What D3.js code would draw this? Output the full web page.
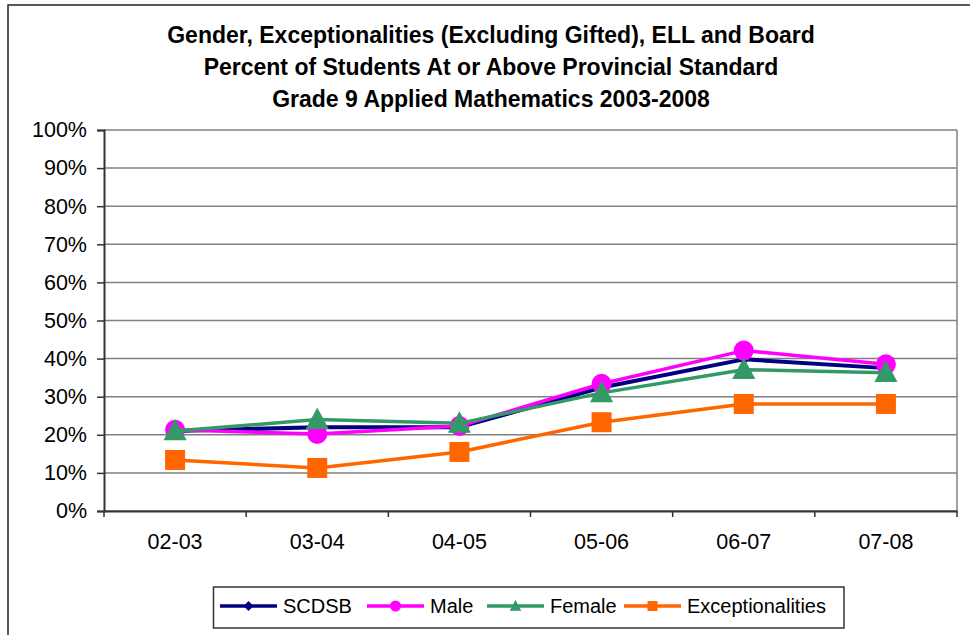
<!DOCTYPE html>
<html>
<head>
    <title>Grade 9 Applied Mathematics 2003-2008</title>
    <style>
        body { margin: 0; background: #fff; }
        svg text { font-family: "Liberation Sans", Arial, sans-serif; fill: #000; }
        .title { font-weight: bold; font-size: 23px; }
        .tick-label { font-size: 21.5px; }
        .legend-label { font-size: 20px; }
    </style>
</head>
<body>
    <div id="chart"></div>
    <script src="https://d3js.org/d3.v7.min.js"></script>
    <script>
        // Chart data (percent at or above provincial standard)
        const years = ["02-03", "03-04", "04-05", "05-06", "06-07", "07-08"];
        const scdsb = [21, 22, 22, 32.4, 39.8, 37.5];
        const male = [21.3, 20.2, 22.3, 33.4, 42.1, 38.5];
        const female = [21, 24, 23, 31, 37.1, 36.3];
        const exceptionalities = [13.4, 11.3, 15.5, 23.3, 28.1, 28.1];
        const yTicks = [0, 10, 20, 30, 40, 50, 60, 70, 80, 90, 100];
        const titleLines = [
            "Gender, Exceptionalities (Excluding Gifted), ELL and Board",
            "Percent of Students At or Above Provincial Standard",
            "Grade 9 Applied Mathematics 2003-2008"
        ];

        const series = [
            { name: "SCDSB", values: scdsb, color: "#000080", shape: "diamond" },
            { name: "Male", values: male, color: "#ff00ff", shape: "circle" },
            { name: "Female", values: female, color: "#339966", shape: "triangle" },
            { name: "Exceptionalities", values: exceptionalities, color: "#ff6600", shape: "square" }
        ];

        const W = 970, H = 635;
        const plot = { left: 104, right: 957, top: 130, bottom: 511 };

        const svg = d3.select("#chart").append("svg")
            .attr("width", W)
            .attr("height", H);

        // outer chart frame
        svg.append("rect")
            .attr("x", 8).attr("y", 5)
            .attr("width", 990).attr("height", 660)
            .attr("fill", "#fff")
            .attr("stroke", "#222")
            .attr("stroke-width", 1.5);

        // title
        svg.append("g").selectAll("text")
            .data(titleLines)
            .join("text")
            .attr("class", "title")
            .attr("x", 491)
            .attr("y", (d, i) => 43 + i * 32)
            .attr("text-anchor", "middle")
            .text(d => d);

        const x = d3.scaleBand()
            .domain(years)
            .range([plot.left, plot.right]);

        const y = d3.scaleLinear()
            .domain([0, 100])
            .range([plot.bottom, plot.top]);

        // gridlines
        svg.append("g").selectAll("line")
            .data(yTicks)
            .join("line")
            .attr("x1", plot.left).attr("x2", plot.right)
            .attr("y1", d => y(d)).attr("y2", d => y(d))
            .attr("stroke", "#808080")
            .attr("stroke-width", 1.5);

        // right border of plot area
        svg.append("line")
            .attr("x1", plot.right).attr("x2", plot.right)
            .attr("y1", plot.top).attr("y2", plot.bottom)
            .attr("stroke", "#808080")
            .attr("stroke-width", 1.5);

        // y axis
        const yAxis = svg.append("g")
            .attr("transform", `translate(${plot.left},0)`)
            .call(d3.axisLeft(y).tickValues(yTicks).tickFormat(d => d + "%").tickSize(7).tickPadding(10));
        yAxis.select(".domain").attr("stroke", "#333").attr("stroke-width", 2);
        yAxis.selectAll(".tick line").attr("stroke", "#333").attr("stroke-width", 1.5);
        yAxis.selectAll(".tick text")
            .attr("class", "tick-label")
            .attr("font-family", null)
            .attr("font-size", null)
            .attr("fill", "#000");

        // x axis: ticks on category boundaries
        const xAxis = svg.append("g")
            .attr("transform", `translate(0,${plot.bottom})`)
            .call(d3.axisBottom(x).tickSize(0).tickPadding(23));
        xAxis.select(".domain").attr("stroke", "#333").attr("stroke-width", 2);
        xAxis.selectAll(".tick text")
            .attr("class", "tick-label")
            .attr("font-family", null)
            .attr("font-size", null)
            .attr("fill", "#000");
        xAxis.selectAll("line.boundary")
            .data(years.concat([null]))
            .join("line")
            .attr("class", "boundary")
            .attr("x1", (d, i) => plot.left + i * x.bandwidth())
            .attr("x2", (d, i) => plot.left + i * x.bandwidth())
            .attr("y1", 0).attr("y2", 6)
            .attr("stroke", "#333")
            .attr("stroke-width", 1.5);

        function markerPath(shape, s) {
            if (shape === "diamond") return `M0,${-s}L${s},0L0,${s}L${-s},0Z`;
            if (shape === "square") return `M${-s},${-s}H${s}V${s}H${-s}Z`;
            if (shape === "triangle") return `M0,${-s * 1.1}L${s * 1.05},${s * 0.85}L${-s * 1.05},${s * 0.85}Z`;
            return `M${s},0A${s},${s} 0 1,1 ${-s},0A${s},${s} 0 1,1 ${s},0Z`;
        }
        const markerSize = { diamond: 6, circle: 10, triangle: 11, square: 10 };
        const legendMarkerSize = { diamond: 5, circle: 5.5, triangle: 5.5, square: 5 };

        const line = d3.line()
            .x((d, i) => x(years[i]) + x.bandwidth() / 2)
            .y(d => y(d));

        series.forEach(s => {
            const g = svg.append("g");
            g.append("path")
                .attr("d", line(s.values))
                .attr("fill", "none")
                .attr("stroke", s.color)
                .attr("stroke-width", s.name === "SCDSB" ? 4 : 3.5)
                .attr("stroke-linejoin", "round");
            g.selectAll("path.marker")
                .data(s.values)
                .join("path")
                .attr("class", "marker")
                .attr("transform", (d, i) => `translate(${x(years[i]) + x.bandwidth() / 2},${y(d)})`)
                .attr("d", markerPath(s.shape, markerSize[s.shape]))
                .attr("fill", s.color);
        });

        // legend
        svg.append("rect")
            .attr("x", 213.5).attr("y", 587)
            .attr("width", 630.5).attr("height", 41)
            .attr("fill", "#fff")
            .attr("stroke", "#333")
            .attr("stroke-width", 1.5);

        const legendX = [220, 367, 487, 624];
        const legend = svg.append("g").selectAll("g")
            .data(series)
            .join("g")
            .attr("transform", (d, i) => `translate(${legendX[i]},606)`);
        legend.append("line")
            .attr("x1", 0).attr("x2", 57)
            .attr("stroke", d => d.color)
            .attr("stroke-width", 3.5);
        legend.append("path")
            .attr("transform", "translate(28.5,0)")
            .attr("d", d => markerPath(d.shape, legendMarkerSize[d.shape]))
            .attr("fill", d => d.color);
        legend.append("text")
            .attr("class", "legend-label")
            .attr("x", 63)
            .attr("dy", "0.36em")
            .text(d => d.name);
    </script>
</body>
</html>
